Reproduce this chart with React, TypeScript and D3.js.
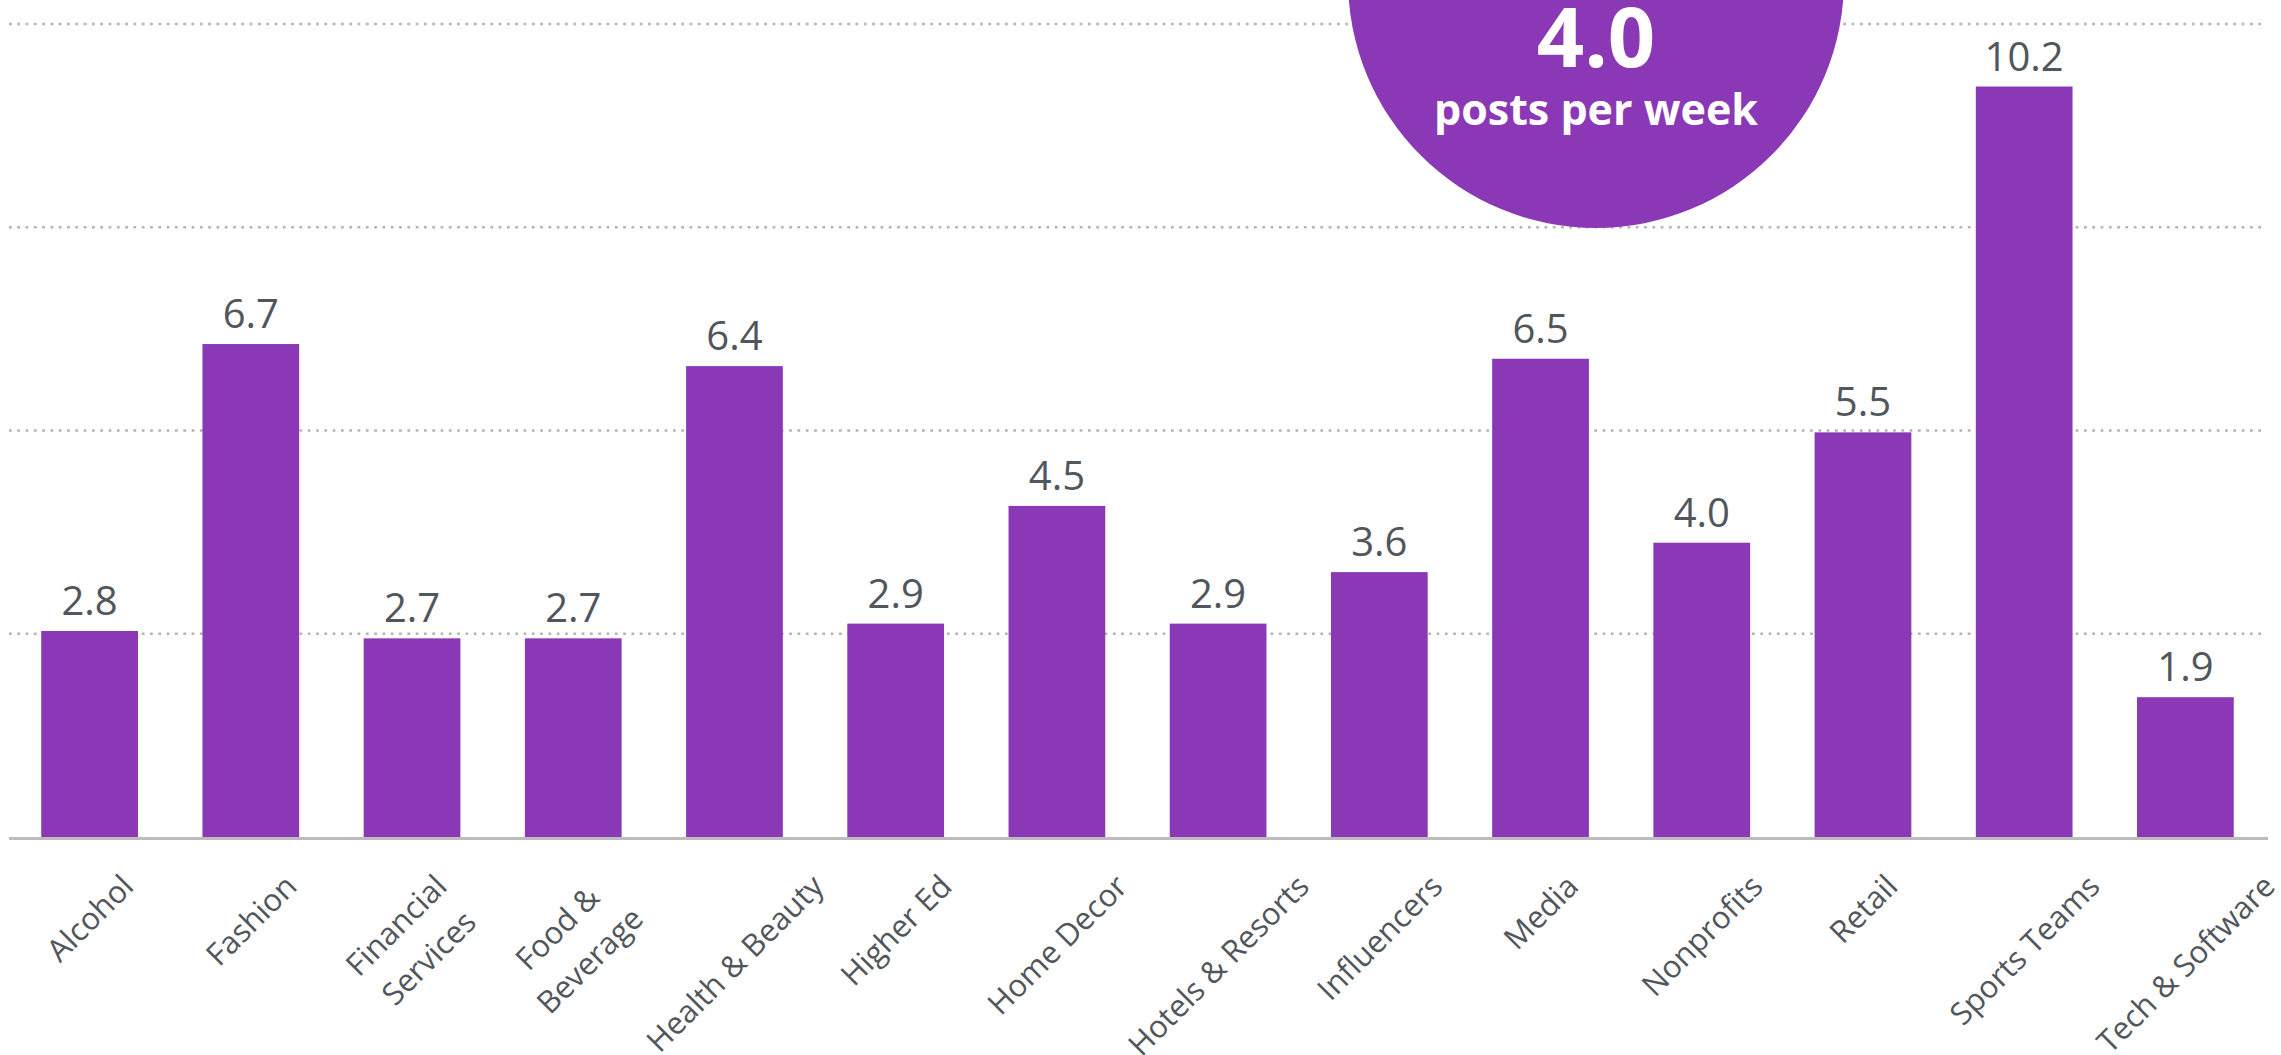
import React from 'react'
import * as d3 from 'd3'

// posts per week by industry
const categories = [
  'Alcohol', 'Fashion', 'Financial\nServices', 'Food &\nBeverage', 'Health & Beauty',
  'Higher Ed', 'Home Decor', 'Hotels & Resorts', 'Influencers', 'Media',
  'Nonprofits', 'Retail', 'Sports Teams', 'Tech & Software',
]
const values = [2.8, 6.7, 2.7, 2.7, 6.4, 2.9, 4.5, 2.9, 3.6, 6.5, 4.0, 5.5, 10.2, 1.9]
const yMax = 11.05
const gridTicks = [1, 2, 3, 4].map(i => (yMax / 4) * i)
const averageValue = 4.0
const averageLabel = 'posts per week'

const width = 2281
const height = 1055
const purple = '#8a38b6'
const textGray = '#51565c'
const font = "'Open Sans', 'Noto Sans', sans-serif"

const labelSize = 31
const lineGap = 46
const capH = 23
const labelTop = 872

let ctx: CanvasRenderingContext2D | null = null
function measure(s: string) {
  if (!ctx) ctx = document.createElement('canvas').getContext('2d')
  if (!ctx) return s.length * labelSize * 0.52
  ctx.font = `${labelSize}px ${font}`
  return ctx.measureText(s).width
}

export default function App() {
  const x = d3.scaleBand<string>()
    .domain(categories)
    .range([9, 2266])
    .paddingInner(0.4)
    .paddingOuter(0.2)

  const y = d3.scaleLinear().domain([0, yMax]).range([837, 24])

  const circle = { cx: 1596, cy: -20, r: 248 }
  const k = Math.SQRT1_2 / 2

  return (
    <div style={{ position: 'fixed', left: 0, top: 0 }}>
      <svg width={width} height={height} style={{ display: 'block', background: '#fff' }}>
        {/* gridlines */}
        <g>
          {gridTicks.map(t => (
            <line key={t} x1={9} x2={2262} y1={y(t)} y2={y(t)}
              stroke="#b4b4b4" strokeWidth={2.7} strokeDasharray="2.7 5.6" />
          ))}
        </g>

        {/* bars */}
        <g>
          {categories.map((c, i) => (
            <rect key={c} x={x(c)} y={y(values[i])} width={x.bandwidth()}
              height={y(0) - y(values[i])} fill={purple} />
          ))}
        </g>

        <line x1={9} x2={2268} y1={y(0) + 1.5} y2={y(0) + 1.5} stroke="#bcbcbc" strokeWidth={3} />

        {/* value labels */}
        <g fontFamily={font} fontSize={40} fill={textGray} textAnchor="middle">
          {categories.map((c, i) => (
            <text key={c} x={(x(c) ?? 0) + x.bandwidth() / 2} y={y(values[i]) - 16}>
              {values[i].toFixed(1)}
            </text>
          ))}
        </g>

        {/* category labels, rotated, bbox centred under the bar */}
        <g fontFamily={font} fontSize={labelSize} fill={textGray} textAnchor="middle">
          {categories.map(c => {
            const lines = c.split('\n')
            const lmax = Math.max(...lines.map(measure))
            const htot = (lines.length - 1) * lineGap + capH
            const cx = (x(c) ?? 0) + x.bandwidth() / 2
            const cy = labelTop + (lmax + htot) * k
            return (
              <text key={c} transform={`translate(${cx},${cy}) rotate(-45)`}>
                {lines.map((l, j) => (
                  <tspan key={j} x={0} y={(j - (lines.length - 1) / 2) * lineGap + capH / 2}>{l}</tspan>
                ))}
              </text>
            )
          })}
        </g>

        {/* average badge */}
        <circle cx={circle.cx} cy={circle.cy} r={circle.r} fill={purple} />
        <g fontFamily={font} fontWeight="bold" fill="#fff" textAnchor="middle">
          <text x={circle.cx} y={67} fontSize={83}>{averageValue.toFixed(1)}</text>
          <text x={circle.cx} y={125} fontSize={43}>{averageLabel}</text>
        </g>
      </svg>
    </div>
  )
}
